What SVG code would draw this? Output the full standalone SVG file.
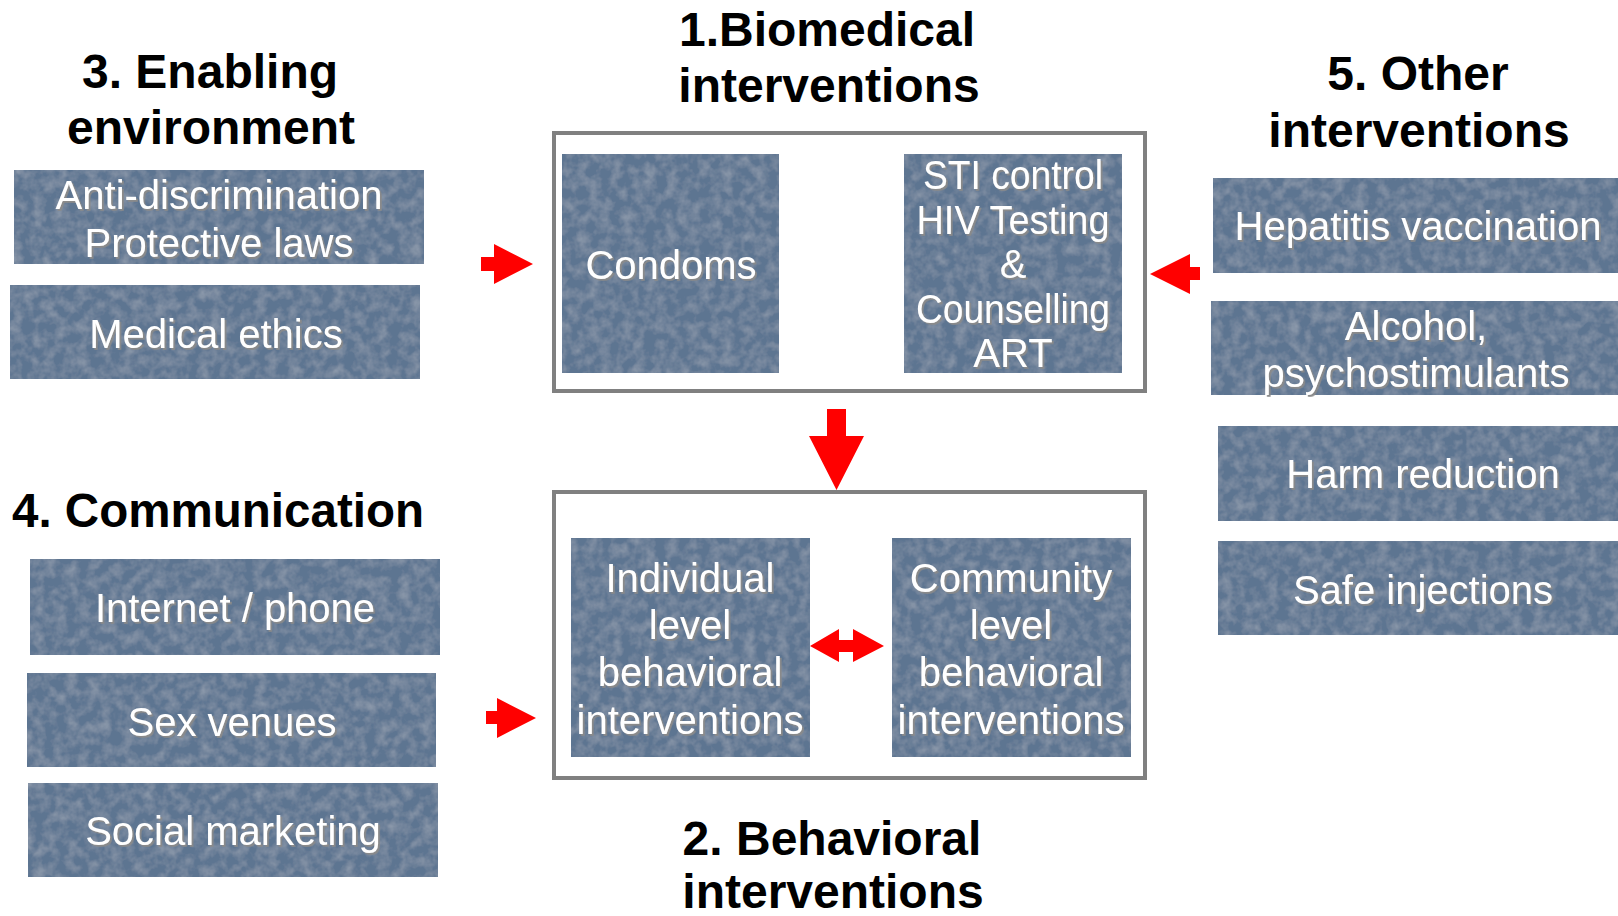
<svg xmlns="http://www.w3.org/2000/svg" width="1618" height="916" viewBox="0 0 1618 916">
<defs>
<filter id="sh" x="-10%" y="-20%" width="120%" height="140%">
<feDropShadow dx="1.8" dy="1.8" stdDeviation="0.4" flood-color="#8a8a8a" flood-opacity="1"/>
</filter>
<filter id="tex" x="0" y="0" width="100%" height="100%">
<feTurbulence type="fractalNoise" baseFrequency="0.09" numOctaves="3" seed="4" result="n"/>
<feColorMatrix in="n" type="matrix" values="0 0 0 0 1  0 0 0 0 1  0 0 0 0 1  0.3 0 0 0 -0.11" result="w"/>
<feComposite in="w" in2="SourceGraphic" operator="in" result="wc"/>
<feMerge><feMergeNode in="SourceGraphic"/><feMergeNode in="wc"/></feMerge>
</filter>
<style>
.box{fill:#5d7591;filter:url(#tex);}
.frame{fill:none;stroke:#808080;stroke-width:4;}
.bt{font-family:"Liberation Sans",Arial,sans-serif;font-size:40px;fill:#ffffff;text-anchor:middle;filter:url(#sh);}
.hd{font-family:"Liberation Sans",Arial,sans-serif;font-size:48px;font-weight:bold;fill:#000000;text-anchor:middle;}
.arr{fill:#ff0000;}
</style>
</defs>
<rect width="1618" height="916" fill="#ffffff"/>

<g id="heading-biomedical">
<text class="hd" x="827" y="46">1.Biomedical</text>
<text class="hd" x="829" y="102">interventions</text>
</g>
<g id="heading-enabling">
<text class="hd" x="210" y="88">3. Enabling</text>
<text class="hd" x="211" y="144">environment</text>
</g>
<g id="heading-other">
<text class="hd" x="1418" y="90">5. Other</text>
<text class="hd" x="1419" y="147">interventions</text>
</g>
<g id="heading-communication">
<text class="hd" x="218" y="527" textLength="412" lengthAdjust="spacingAndGlyphs">4. Communication</text>
</g>
<g id="heading-behavioral">
<text class="hd" x="832" y="855">2. Behavioral</text>
<text class="hd" x="833" y="908">interventions</text>
</g>

<g id="frame-biomedical"><rect class="frame" x="554" y="133" width="591" height="258"/></g>
<g id="frame-behavioral"><rect class="frame" x="554" y="492" width="591" height="286"/></g>

<g id="node-antidiscrimination">
<rect class="box" x="14" y="170" width="410" height="94"/>
<text class="bt" x="219" y="209">Anti-discrimination</text>
<text class="bt" x="219" y="257">Protective laws</text>
</g>
<g id="node-medical-ethics">
<rect class="box" x="10" y="285" width="410" height="94"/>
<text class="bt" x="216" y="348">Medical ethics</text>
</g>

<g id="node-condoms">
<rect class="box" x="562" y="154" width="217" height="219"/>
<text class="bt" x="671" y="279">Condoms</text>
</g>
<g id="node-sti">
<rect class="box" x="904" y="154" width="218" height="219"/>
<text class="bt" x="1013" y="189" textLength="180" lengthAdjust="spacingAndGlyphs">STI control</text>
<text class="bt" x="1013" y="234" textLength="193" lengthAdjust="spacingAndGlyphs">HIV Testing</text>
<text class="bt" x="1013" y="278">&amp;</text>
<text class="bt" x="1013" y="323" textLength="194" lengthAdjust="spacingAndGlyphs">Counselling</text>
<text class="bt" x="1013" y="367">ART</text>
</g>

<g id="node-individual">
<rect class="box" x="571" y="538" width="239" height="219"/>
<text class="bt" x="690" y="592">Individual</text>
<text class="bt" x="690" y="639">level</text>
<text class="bt" x="690" y="686">behavioral</text>
<text class="bt" x="690" y="734">interventions</text>
</g>
<g id="node-community">
<rect class="box" x="892" y="538" width="239" height="219"/>
<text class="bt" x="1011" y="592">Community</text>
<text class="bt" x="1011" y="639">level</text>
<text class="bt" x="1011" y="686">behavioral</text>
<text class="bt" x="1011" y="734">interventions</text>
</g>

<g id="node-internet">
<rect class="box" x="30" y="559" width="410" height="96"/>
<text class="bt" x="235" y="622">Internet / phone</text>
</g>
<g id="node-sex-venues">
<rect class="box" x="27" y="673" width="409" height="94"/>
<text class="bt" x="232" y="736">Sex venues</text>
</g>
<g id="node-social-marketing">
<rect class="box" x="28" y="783" width="410" height="94"/>
<text class="bt" x="233" y="845">Social marketing</text>
</g>

<g id="node-hepatitis">
<rect class="box" x="1213" y="178" width="405" height="95"/>
<text class="bt" x="1418" y="240">Hepatitis vaccination</text>
</g>
<g id="node-alcohol">
<rect class="box" x="1211" y="301" width="407" height="94"/>
<text class="bt" x="1416" y="340">Alcohol,</text>
<text class="bt" x="1416" y="387">psychostimulants</text>
</g>
<g id="node-harm">
<rect class="box" x="1218" y="426" width="400" height="95"/>
<text class="bt" x="1423" y="488">Harm reduction</text>
</g>
<g id="node-safe">
<rect class="box" x="1218" y="541" width="400" height="94"/>
<text class="bt" x="1423" y="604">Safe injections</text>
</g>

<g id="connectors">
<polygon class="arr" points="481,257 494,257 494,244 533,264 494,284 494,271 481,271"/>
<polygon class="arr" points="486,711 497,711 497,698 536,718 497,738 497,724 486,724"/>
<polygon class="arr" points="1200,267 1190,267 1190,254 1150,274 1190,294 1190,280 1200,280"/>
<polygon class="arr" points="827,409 846,409 846,436 864,436 836.5,490 809,436 827,436"/>
<polygon class="arr" points="810,646 839,629 839,640 853,640 853,629 884,646 853,662 853,652 839,652 839,662"/>
</g>
</svg>
